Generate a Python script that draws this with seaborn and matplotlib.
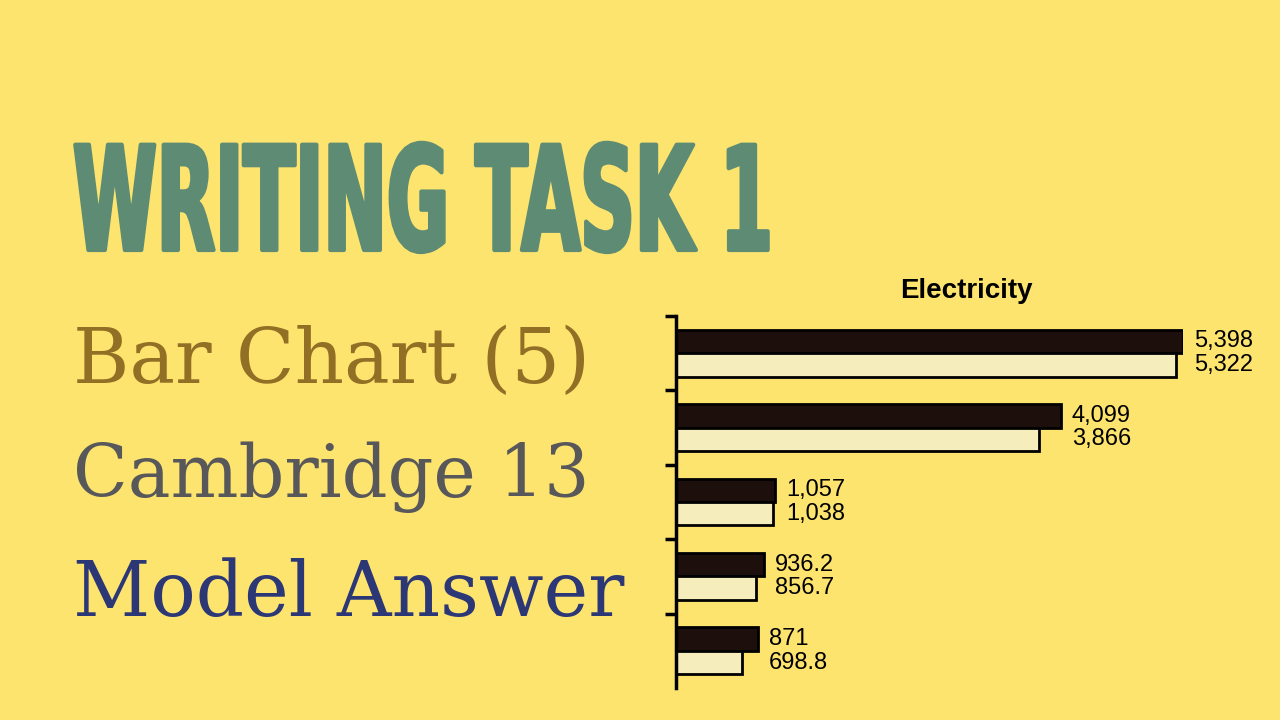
import pandas as pd
import matplotlib
matplotlib.use('Agg')
import matplotlib.pyplot as plt
import seaborn as sns
from matplotlib.patheffects import AbstractPathEffect
from matplotlib.transforms import Affine2D


groups = ['g1', 'g2', 'g3', 'g4', 'g5']
dark_values = [5398, 4099, 1057, 936.2, 871]
light_values = [5322, 3866, 1038, 856.7, 698.8]
dark_labels = ['5,398', '4,099', '1,057', '936.2', '871']
light_labels = ['5,322', '3,866', '1,038', '856.7', '698.8']
series_names = ['dark', 'light']

BG = '#FDE46F'
DARK = '#1E0D0A'
LIGHT = '#FFF3B4'

sns.set_style('white')
plt.rcParams['font.family'] = ['Liberation Sans', 'DejaVu Sans']

df = pd.DataFrame({
    'group': groups * 2,
    'value': dark_values + light_values,
    'series': [series_names[0]] * len(groups) + [series_names[1]] * len(groups),
})


class Stretch(AbstractPathEffect):
    # stretches glyphs vertically around baseline y0 (display px), optional outline to thicken
    def __init__(self, y0, sy, stroke=0):
        super().__init__()
        self.y0, self.sy, self.stroke = y0, sy, stroke

    def draw_path(self, renderer, gc, tpath, affine, rgbFace=None):
        aff = affine + Affine2D().translate(0, -self.y0).scale(1, self.sy).translate(0, self.y0)
        gc0 = renderer.new_gc()
        gc0.copy_properties(gc)
        if self.stroke:
            gc0.set_linewidth(self.stroke)
            gc0.set_foreground(rgbFace)
        renderer.draw_path(gc0, tpath, aff, rgbFace)
        gc0.restore()


fig = plt.figure(figsize=(12.8, 7.2), dpi=100, facecolor=BG)
renderer = fig.canvas.get_renderer()


def fit_width(t, width_px):
    bb = t.get_window_extent(renderer)
    t.set_fontsize(t.get_fontsize() * width_px / bb.width)


# headline: tall condensed caps, ~700 px wide, cap height ~105 px
title = fig.text(73 / 1280, 1 - 250 / 720, 'WRITING TASK 1', fontsize=104,
                 family=['DejaVu Sans'], fontweight='bold',
                 color='#5E8B73', va='baseline', ha='left')
tw = title.get_window_extent(renderer).width
title.set_fontsize(104 * 700 / tw)
title.set_path_effects([Stretch(720 - 250, tw / 700, stroke=3)])

lines = [('Bar Chart (5)', 383, 517, '#917026'),
         ('Cambridge 13', 497, 517, '#58585A'),
         ('Model Answer', 616, 552, '#2C3776')]
for txt, base, w, col in lines:
    t = fig.text(73 / 1280, 1 - base / 720, txt, fontsize=50,
                 family=['DejaVu Serif'], color=col, va='baseline', ha='left')
    fit_width(t, w)

# bar chart on the right
ax = fig.add_axes([676 / 1280, 1 - 688 / 720, (1183 - 676) / 1280, (688 - 316) / 720])
ax.set_facecolor('none')
bar_w = 0.63
sns.barplot(data=df, x='value', y='group', hue='series', orient='h',
            palette=[DARK, LIGHT], width=bar_w, edgecolor='black',
            linewidth=2, legend=False, ax=ax)
ax.set_xlim(0, 5400)
ax.set_ylim(4.5, -0.5)
ax.set_yticks([-0.5, 0.5, 1.5, 2.5, 3.5])
ax.set_yticklabels([])
ax.set_xticks([])
ax.set_xlabel('')
ax.set_ylabel('')
ax.tick_params(axis='y', direction='out', length=8, width=2.5, color='black', left=True)
for s in ['top', 'right', 'bottom']:
    ax.spines[s].set_visible(False)
ax.spines['left'].set_linewidth(2.5)
ax.spines['left'].set_color('black')

for i in range(len(groups)):
    xmax = max(dark_values[i], light_values[i])
    ax.annotate(dark_labels[i], xy=(xmax, i - bar_w / 4), xytext=(8, 0),
                textcoords='offset points', va='center', ha='left',
                fontsize=17, color='black', annotation_clip=False)
    ax.annotate(light_labels[i], xy=(xmax, i + bar_w / 4), xytext=(8, 0),
                textcoords='offset points', va='center', ha='left',
                fontsize=17, color='black', annotation_clip=False)

fig.text(966 / 1280, 1 - 291 / 720, 'Electricity', fontsize=20, fontweight='bold',
         color='black', ha='center', va='center')

fig.savefig('out.png', dpi=100, facecolor=BG)
